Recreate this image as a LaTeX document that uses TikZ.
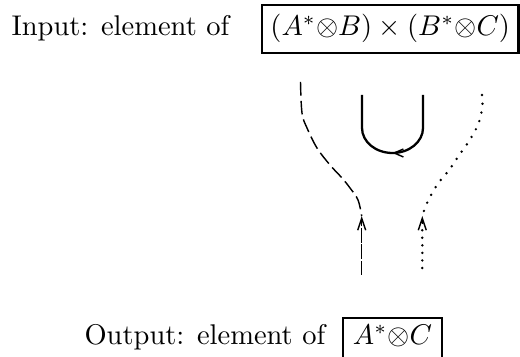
\documentclass[tikz,border=0pt]{standalone}
\usetikzlibrary{arrows.meta,decorations.markings}
\begin{document}
\begin{tikzpicture}[x=0.35088pt,y=-0.35088pt,
  lbl/.style={anchor=base west, inner sep=0pt},
  mathbox/.style={draw, line width=0.75pt, anchor=base, inner xsep=0pt, inner ysep=3.4pt, text height=7.5pt, text depth=2.5pt},
  thinline/.style={line width=0.5pt},
  dashline/.style={thinline, dash pattern=on 4.8pt off 1.8pt},
  longdash/.style={thinline, dash pattern=on 5pt off 0.7pt},
  dotline/.style={line width=0.95pt, line cap=round, dash pattern=on 0pt off 3.1pt},
  shortdots/.style={line width=0.95pt, line cap=round, dash pattern=on 0pt off 2.65pt},
  uptip/.style={-{Straight Barb[length=4.2pt,width=2.8pt,line width=0.5pt]}},
  uline/.style={line width=0.8pt}]
\useasboundingbox (0,0) rectangle (520,357);

% labels and boxes
\node[lbl] (inlbl) at (11,36) {Input: element of};
\node[mathbox, minimum width=90pt] (inbox) at (390.25,36) {$(A^*{\otimes}B)\times(B^*{\otimes}C)$};
\node[lbl] (outlbl) at (84,345) {Output: element of};
\node[draw, line width=0.75pt, anchor=base, inner xsep=0pt, inner ysep=3.5pt, text height=6pt, text depth=8pt, minimum width=34.7pt] (outbox) at (392.5,345) {$A^*{\otimes}C$};

% coordinates
\coordinate (dtop) at (300.5,82);
\coordinate (dmeet) at (361.7,216);
\coordinate (dbot) at (361.7,275);
\coordinate (ptop) at (482,95);
\coordinate (pmeet) at (422.3,216);
\coordinate (pbot) at (422.3,268);
\coordinate (ur) at (423,95);
\coordinate (ul) at (362,95);

% dashed strand
\draw[dashline] plot[smooth, tension=0.6] coordinates {(dtop) (302,113) (307,128) (317,148) (330,165) (342,178) (350,188) (358,200) (dmeet)};
\draw[longdash, uptip] (dbot) -- (dmeet);

% dotted strand
\draw[dotline] plot[smooth, tension=0.6] coordinates {(ptop) (482.5,105) (479,122) (471,138) (460,154) (449,170) (437,185) (427,203) (pmeet)};
\draw[shortdots] (pbot) -- (422.3,222);
\draw[uptip, thinline] (422.3,224) -- (pmeet);

% cup
\draw[uline, postaction={decorate}, decoration={markings, mark=at position 0.5 with {\arrow{Straight Barb[length=3.2pt,width=2.8pt,line width=0.5pt]}}}]
  (ur) -- (423,128) arc[start angle=0, end angle=180, x radius=30.5, y radius=25] -- (ul);
\end{tikzpicture}
\end{document}
